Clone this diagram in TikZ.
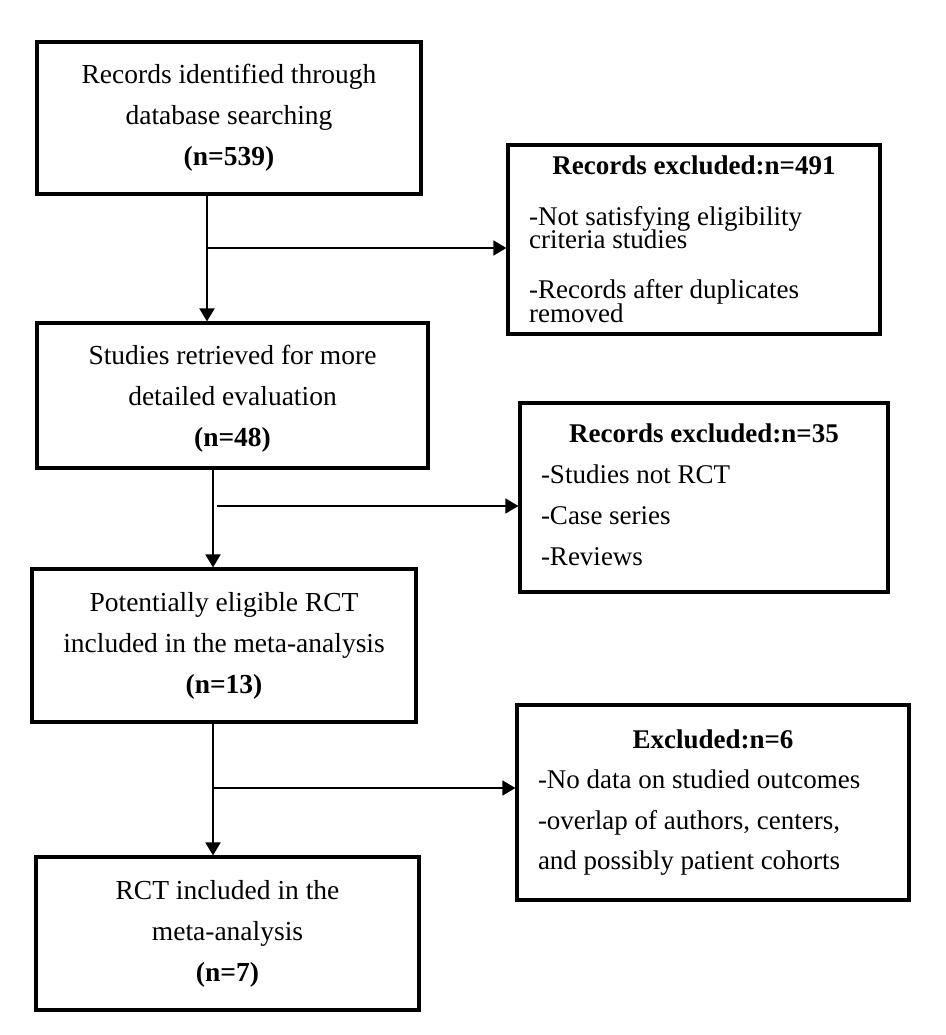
\documentclass[tikz,border=0pt]{standalone}
\usepackage{fontspec}
\setmainfont{Liberation Serif}
\usetikzlibrary{arrows.meta}
\begin{document}
\begin{tikzpicture}[x=1pt,y=-1pt,
  mainbox/.style={draw, line width=3.2pt, inner sep=0pt},
  maintext/.style={inner sep=0pt, align=center, font=\fontsize{27.5}{41}\selectfont},
  sidebox/.style={draw, line width=3.2pt, inner sep=0pt},
  sidetext/.style={inner sep=0pt, align=flush left},
  sideline/.style={inner sep=0pt, anchor=base west, font=\fontsize{27}{27}\selectfont},
  sidehead/.style={inner sep=0pt, anchor=base, font=\fontsize{27}{27}\selectfont\bfseries},
  flow/.style={line width=2.2pt, -{Triangle[length=13pt,width=15pt]}},
  branch/.style={line width=1.5pt, -{Triangle[length=13pt,width=15pt]}}]
\useasboundingbox (0,0) rectangle (945,1035);

\node[mainbox, minimum width=384pt, minimum height=152pt] (b1) at (229,118) {};
\node[maintext] (t1) at (b1.center)
  {Records identified through\\database searching\\\textbf{(n=539)}};
\node[mainbox, minimum width=391pt, minimum height=145pt] (b2) at (232.5,395.5) {};
\node[maintext] (t2) at ([yshift=-3pt]b2.center)
  {Studies retrieved for more\\detailed evaluation\\\textbf{(n=48)}};
\node[mainbox, minimum width=384pt, minimum height=153pt] (b3) at (224,645.5) {};
\node[maintext] (t3) at (b3.center)
  {Potentially eligible RCT\\included in the meta-analysis\\\textbf{(n=13)}};
\node[mainbox, minimum width=383pt, minimum height=153pt] (b4) at (227.5,933.5) {};
\node[maintext] (t4) at (b4.center)
  {RCT included in the\\meta-analysis\\\textbf{(n=7)}};

\node[sidebox, minimum width=372pt, minimum height=189pt] (r1) at (694,239.5) {};
\node[sidehead] (h1) at (694,175) {Records excluded:n=491};
\node[sideline] (l1a) at (529,225) {-Not satisfying eligibility};
\node[sideline] (l1b) at (529,248) {criteria studies};
\node[sideline] (l1c) at (529,298) {-Records after duplicates};
\node[sideline] (l1d) at (529,322) {removed};

\node[sidebox, minimum width=368pt, minimum height=189pt] (r2) at (704,497.5) {};
\node[sidetext, text width=326pt, font=\fontsize{27}{41}\selectfont] (s2) at ([yshift=2.5pt]r2.center)
  {\makebox[\linewidth]{\bfseries Records excluded:n=35}\\
   -Studies not RCT\\-Case series\\-Reviews};
\node[sidebox, minimum width=392pt, minimum height=195pt] (r3) at (713,802.5) {};
\node[sidetext, text width=350pt, font=\fontsize{27}{40.5}\selectfont] (s3) at (r3.center)
  {\makebox[\linewidth]{\bfseries Excluded:n=6}\\
   -No data on studied outcomes\\-overlap of authors, centers,\\and possibly patient cohorts};

\coordinate (j1) at (207,248);
\coordinate (j2) at (213,506);
\coordinate (j2b) at (217,506);
\coordinate (j3) at (213,788);

\draw[flow] (b1.south -| j1) -- (b2.north -| j1);
\draw[branch] (j1) -- (r1.west |- j1);
\draw[flow] (b2.south -| j2) -- (b3.north -| j2);
\draw[branch] (j2b) -- (r2.west |- j2b);
\draw[flow] (b3.south -| j3) -- (b4.north -| j3);
\draw[branch] (j3) -- (r3.west |- j3);
\end{tikzpicture}
\end{document}
